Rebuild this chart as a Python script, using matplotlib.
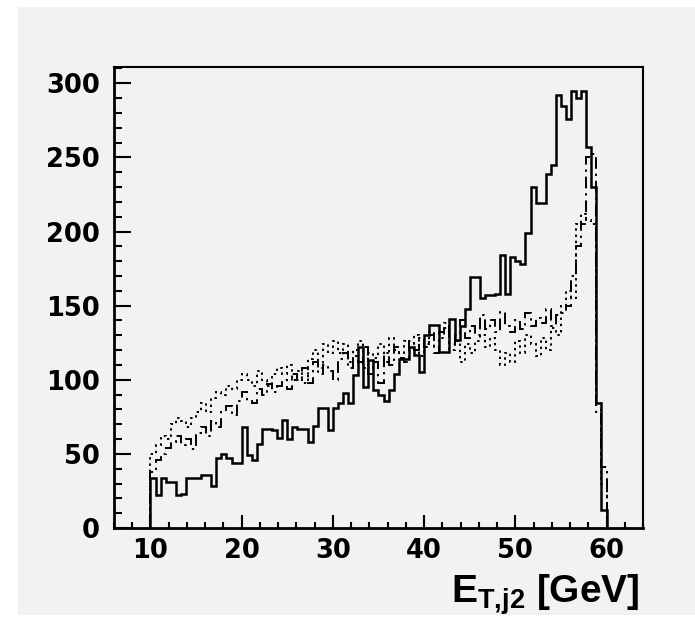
import numpy as np
import matplotlib
matplotlib.use("Agg")
import matplotlib.pyplot as plt
from matplotlib.patches import Rectangle

# --- histogram contents: 90 bins from 10 to 60 GeV ---
bin_lo, bin_hi, n_bins = 10.0, 60.0, 90

solid_counts = [
    34, 22, 34, 31, 31, 22, 23, 34, 34, 34, 36, 36, 28, 47, 50, 47, 44, 44,
    68, 49, 46, 57, 67, 67, 66, 61, 73, 60, 68, 67, 67, 58, 69, 81, 81, 66,
    81, 84, 91, 84, 103, 122, 95, 113, 93, 90, 86, 93, 104, 114, 114, 122, 117, 105,
    130, 137, 137, 119, 119, 141, 127, 136, 148, 169, 169, 155, 157, 157, 158, 184, 158, 183,
    180, 178, 199, 230, 219, 219, 239, 245, 292, 285, 276, 295, 290, 295, 257, 230, 84, 12,
]

dashdot_counts = [
    38, 46, 50, 54, 58, 62, 56, 60, 53, 64, 68, 62, 72, 68, 78, 82, 76, 86,
    92, 86, 84, 94, 90, 97, 92, 96, 100, 94, 104, 100, 108, 98, 112, 104, 110, 106,
    100, 114, 118, 108, 116, 112, 122, 104, 112, 98, 118, 110, 122, 115, 112, 126, 120, 128,
    122, 130, 118, 132, 138, 124, 130, 140, 128, 136, 130, 144, 134, 140, 132, 146, 136, 132,
    140, 134, 145, 136, 142, 138, 148, 136, 144, 145, 150, 170, 190, 205, 250, 252, 78, 41,
]

dotted_counts = [
    50, 56, 62, 60, 70, 74, 72, 68, 74, 78, 84, 78, 88, 92, 90, 96, 94, 100,
    104, 100, 96, 106, 100, 96, 104, 108, 104, 110, 100, 106, 98, 114, 120, 108, 124, 118,
    126, 118, 124, 112, 120, 126, 108, 118, 115, 124, 112, 128, 120, 118, 126, 120, 130, 116,
    124, 132, 122, 128, 135, 120, 126, 112, 124, 118, 126, 130, 122, 128, 120, 110, 118, 112,
    126, 118, 130, 124, 116, 128, 120, 135, 130, 150, 160, 155, 205, 212, 208, 205, 84, 30,
]

x_ticks = [10, 20, 30, 40, 50, 60]
y_ticks = [0, 50, 100, 150, 200, 250, 300]

edges = np.linspace(bin_lo, bin_hi, n_bins + 1)

plt.rcParams["mathtext.fontset"] = "custom"
plt.rcParams["mathtext.rm"] = "Liberation Sans:bold"
plt.rcParams["mathtext.it"] = "Liberation Sans:bold"
plt.rcParams["mathtext.bf"] = "Liberation Sans:bold"

bg = "#f2f2f2"
fig = plt.figure(figsize=(6.95, 6.2), dpi=100, facecolor="white")
fig.patches.append(Rectangle((18 / 695, 5 / 620), 1 - 18 / 695, 1 - 12 / 620,
                             transform=fig.transFigure, facecolor=bg,
                             edgecolor="none", zorder=-10))

ax = fig.add_axes([114 / 695, 1 - 528 / 620, (643 - 114) / 695, (528 - 67) / 620])
ax.set_facecolor(bg)

ax.stairs(dotted_counts, edges, color="black", linewidth=1.4,
          linestyle=(0, (1.2, 2.0)))
ax.stairs(dashdot_counts, edges, color="black", linewidth=1.4,
          linestyle=(0, (6, 2.5, 1.2, 2.5)))
ax.stairs(solid_counts, edges, color="black", linewidth=1.8)

ax.set_xlim(6, 64)
ax.set_ylim(0, 311)

ax.set_xticks(x_ticks)
ax.set_xticks(np.arange(6, 65, 2), minor=True)
ax.set_yticks(y_ticks)
ax.set_yticks(np.arange(0, 311, 10), minor=True)

ax.tick_params(axis="both", which="both", direction="in", top=False, right=False,
               width=1.5, color="black")
ax.tick_params(axis="x", which="major", length=9.5, pad=7)
ax.tick_params(axis="x", which="minor", length=4.5)
ax.tick_params(axis="y", which="major", length=12, pad=10)
ax.tick_params(axis="y", which="minor", length=6)

for lab in ax.get_xticklabels() + ax.get_yticklabels():
    lab.set_fontfamily("DejaVu Sans")
    lab.set_fontweight("bold")
    lab.set_fontsize(18.5)

for side in ["left", "bottom"]:
    ax.spines[side].set_linewidth(2.0)
for side in ["top", "right"]:
    ax.spines[side].set_linewidth(1.5)

fig.text(640 / 695, 1 - 603 / 620, r"E$_{\mathrm{T{,}j2}}$ [GeV]",
         ha="right", va="baseline", fontsize=28, fontweight="bold",
         family="Liberation Sans")

fig.savefig("out.png", dpi=100, facecolor="white")
